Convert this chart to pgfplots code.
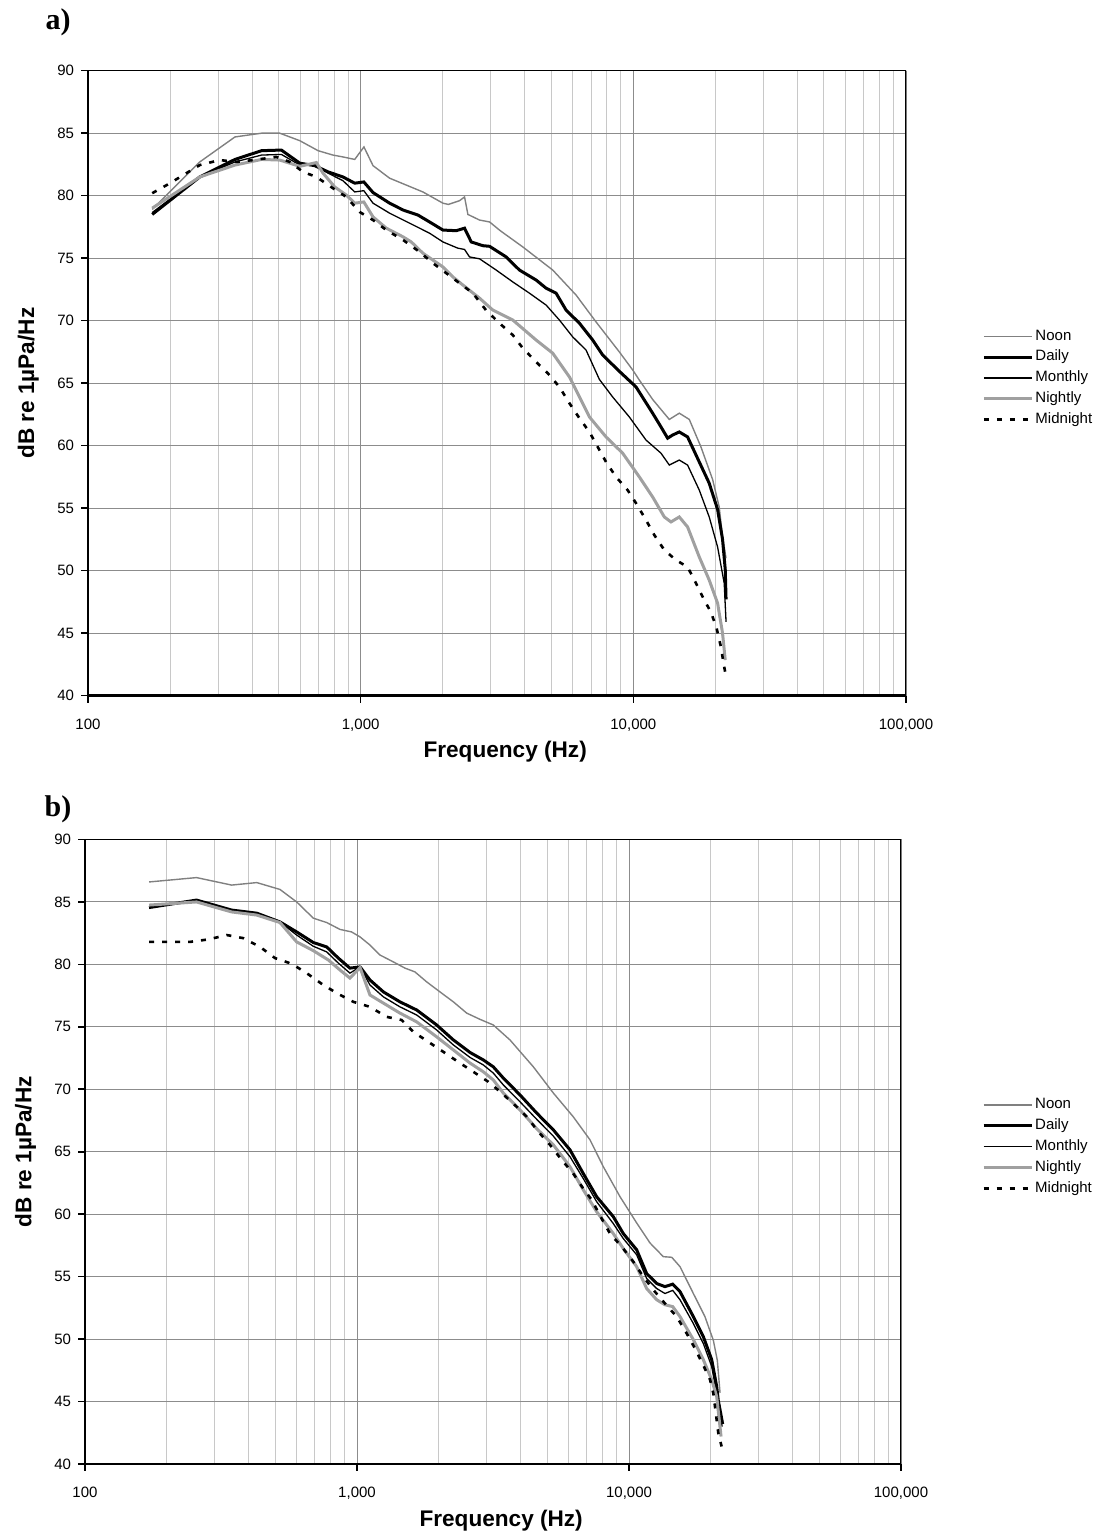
\documentclass[border=0pt]{standalone}
\usepackage{pgfplots}
\pgfplotsset{compat=1.18}
\usepackage{fontspec}
\setmainfont{Liberation Sans}
\newfontfamily\serifbold{Liberation Serif}

\definecolor{noongray}{HTML}{808080}
\definecolor{nightgray}{HTML}{A0A0A0}
\definecolor{majgrid}{HTML}{8C8C8C}
\definecolor{mingrid}{HTML}{C8C8C8}

\tikzset{
  noon/.style={draw=noongray, line width=0.7pt},
  daily/.style={draw=black, line width=1.5pt},
  monthly/.style={draw=black, line width=0.65pt},
  nightly/.style={draw=nightgray, line width=1.5pt},
  midnight/.style={draw=black, line width=1.3pt, dash pattern=on 2.5pt off 4pt},
}

\pgfplotsset{
  every axis/.append style={
    scale only axis,
    xmin=100, xmax=100000, ymin=40, ymax=90,
    xtick={100,1000,10000,100000},
    xticklabels={100,{1,000},{10,000},{100,000}},
    minor xtick={200,300,400,500,600,700,800,900,2000,3000,4000,5000,6000,7000,8000,9000,20000,30000,40000,50000,60000,70000,80000,90000},
    ytick={40,45,...,90},
    axis lines*=left, axis line style={line width=1.3pt, -},
    tick align=outside, major tick length=3.5pt, minor tick length=0pt,
    major tick style={black, line width=0.8pt},
    xmajorgrids, xminorgrids, ymajorgrids,
    major x grid style={majgrid, line width=0.5pt},
    minor x grid style={mingrid, line width=0.5pt},
    major y grid style={majgrid, line width=0.5pt},
    tick label style={font=\fontsize{7.5}{9}\selectfont},
    xticklabel style={yshift=-4.5pt},
    /pgf/number format/assume math mode=true,
    xlabel={Frequency (Hz)}, ylabel={dB re 1µPa/Hz},
    xlabel style={at={(axis description cs:0.51,-0.09)}, anchor=center,
      font=\bfseries\fontsize{11.3}{13}\selectfont},
    ylabel style={at={(axis description cs:-0.073,0.5)}, rotate=0, anchor=center,
      font=\bfseries\fontsize{11.3}{13}\selectfont},
    legend cell align=left,
    legend image code/.code={\draw[#1] (0pt,0pt) -- (24pt,0pt);},
  },
}

\begin{document}
\begin{tikzpicture}
\useasboundingbox (0,0) rectangle (549.5pt,768.5pt);

\node[font=\serifbold\bfseries\fontsize{15}{18}\selectfont] at (29pt,757.25pt) {a)};
\node[font=\serifbold\bfseries\fontsize{15}{18}\selectfont] at (29pt,363.75pt) {b)};

% ---- a) ----
\begin{semilogxaxis}[at={(44pt,420.65pt)}, anchor=south west,
  width=409pt, height=312.5pt,
  legend style={at={(axis description cs:1.093,0.508)}, anchor=west,
      draw=none, fill=none, inner sep=0pt, row sep=1.5pt,
      font=\fontsize{7.5}{9}\selectfont, nodes={inner sep=1pt}}]
\addplot[noon] table {
f v
172 78.9
257 82.7
346 84.7
433 85.0
505 85.0
598 84.4
698 83.6
791 83.25
861 83.1
951 82.9
1028 83.9
1110 82.4
1277 81.4
1469 80.85
1691 80.3
2003 79.4
2097 79.3
2305 79.6
2404 79.9
2473 78.5
2729 78.05
2969 77.9
3250 77.2
3932 75.9
5063 74.05
6166 72.05
7300 69.9
8886 67.5
9943 66.06
10520 65.25
11770 63.7
13550 62.1
14740 62.6
16040 62.1
17700 59.9
19530 57.3
20650 55.1
21240 52.7
21880 51.0
};
\addlegendentry{Noon}
\addplot[daily] table {
f v
172 78.5
257 81.5
346 82.9
433 83.6
512 83.65
598 82.6
679 82.4
760 81.9
861 81.5
951 81.0
1027 81.1
1110 80.25
1277 79.4
1432 78.85
1622 78.45
1789 77.9
2003 77.25
2241 77.2
2404 77.4
2544 76.3
2806 76.0
2969 75.95
3417 75.1
3823 74.05
4401 73.25
4787 72.6
5208 72.2
5666 70.85
6341 69.8
7096 68.45
7721 67.25
8886 65.95
10230 64.7
11770 62.6
12630 61.5
13360 60.6
13930 60.85
14740 61.1
15810 60.7
17450 58.7
18980 57.0
20370 54.9
21240 52.5
21730 50.1
21880 47.7
};
\addlegendentry{Daily}
\addplot[monthly] table {
f v
172 78.65
257 81.5
346 82.7
433 83.25
512 83.3
598 82.45
679 82.45
760 81.8
861 81.2
951 80.3
1027 80.4
1110 79.4
1277 78.6
1512 77.8
1789 77.0
2003 76.3
2272 75.8
2404 75.7
2508 75.1
2729 74.95
3141 74.05
3614 73.1
4159 72.2
4787 71.25
5357 70.05
5995 68.7
6708 67.65
7508 65.3
8396 63.9
9666 62.3
11130 60.45
12630 59.4
13550 58.45
14740 58.85
15810 58.45
17450 56.45
18980 54.3
20370 51.9
21540 49.0
21880 45.9
};
\addlegendentry{Monthly}
\addplot[nightly] table {
f v
172 79.0
257 81.5
346 82.45
433 82.9
505 82.85
598 82.35
688 82.65
728 81.8
803 80.7
886 80.05
951 79.4
1027 79.5
1110 78.3
1242 77.4
1432 76.7
1533 76.3
1691 75.4
1841 74.85
2003 74.3
2179 73.5
2371 72.85
2729 71.8
3052 70.85
3614 70.05
4401 68.45
5063 67.4
5829 65.5
6166 64.45
6901 62.3
7943 60.7
9137 59.4
10520 57.5
11770 55.9
12990 54.3
13740 53.9
14740 54.3
15810 53.5
17450 51.1
18980 49.25
20370 47.4
21240 45.0
21730 42.85
};
\addlegendentry{Nightly}
\addplot[midnight] table {
f v
172 80.2
200 81.0
223.5 81.65
257 82.45
304 82.85
350 82.7
403 82.85
491 83.1
550 82.7
615 81.9
688 81.5
791 80.6
886 79.9
991 78.7
1110 78.05
1242 77.25
1432 76.45
1645 75.5
1841 74.6
2060 73.8
2305 73.0
2579 72.2
2880 70.85
3229 69.8
3614 68.85
3932 67.8
4401 66.7
4854 65.8
5357 64.7
5829 63.4
6341 62.2
6901 61.1
7403 59.9
7943 58.7
8642 57.5
9528 56.45
10230 55.4
11130 54.05
11940 52.85
12990 51.65
14330 50.85
15810 50.3
16970 49.0
18200 47.65
19250 46.7
20200 45.4
20950 43.9
21420 42.6
21880 41.5
};
\addlegendentry{Midnight}
\draw[line width=0.6pt] (rel axis cs:0,1) -- (rel axis cs:1,1) -- (rel axis cs:1,0);
\end{semilogxaxis}

% ---- b) ----
\begin{semilogxaxis}[at={(42.5pt,36.5pt)}, anchor=south west,
  width=408pt, height=312.25pt,
  legend style={at={(axis description cs:1.099,0.508)}, anchor=west,
      draw=none, fill=none, inner sep=0pt, row sep=1.5pt,
      font=\fontsize{7.5}{9}\selectfont, nodes={inner sep=1pt}}]
\addplot[noon] table {
f v
172 86.6
257 86.95
346 86.35
428 86.55
521 86.0
600 85.0
691 83.7
774 83.35
866 82.8
955 82.6
1026 82.2
1116 81.55
1215 80.75
1360 80.2
1502 79.7
1633 79.4
1804 78.6
2018 77.8
2261 77.0
2531 76.1
2833 75.6
3170 75.15
3652 73.95
4449 71.8
5271 69.7
6238 67.8
7190 65.95
8046 63.8
9268 61.4
10670 59.3
11940 57.7
13370 56.6
14360 56.55
15400 55.8
17240 53.65
19020 51.8
20420 49.9
21120 48.3
21610 45.7
};
\addlegendentry{Noon}
\addplot[daily] table {
f v
172 84.55
257 85.15
346 84.35
428 84.1
521 83.4
600 82.6
691 81.75
774 81.4
854 80.5
942 79.7
1026 79.8
1116 78.75
1250 77.8
1439 77.0
1657 76.35
1963 75.15
2261 73.95
2603 72.95
2914 72.35
3170 71.8
3451 70.9
3974 69.55
4577 68.1
5271 66.75
6068 65.15
6792 63.25
7606 61.4
8756 59.8
9528 58.45
10670 57.15
11610 55.25
12640 54.45
13560 54.2
14480 54.4
15400 53.8
17240 51.8
18760 50.2
20140 48.35
21010 46.2
21290 45.1
22100 43.2
};
\addlegendentry{Daily}
\addplot[monthly] table {
f v
172 84.6
257 85.15
346 84.3
428 84.05
521 83.4
600 82.35
691 81.45
774 81.0
854 80.1
942 79.3
1026 79.8
1116 78.35
1250 77.4
1439 76.6
1657 75.95
1963 74.75
2261 73.55
2603 72.55
2914 71.95
3170 71.3
3451 70.35
3974 69.0
4577 67.6
5271 66.25
6068 64.6
6792 62.85
7606 61.0
8756 59.25
9528 58.05
10670 56.75
11610 54.85
12640 54.05
13560 53.65
14480 53.9
15400 53.15
17240 51.25
18760 49.65
20140 47.8
21010 45.65
21290 44.85
22000 43.0
};
\addlegendentry{Monthly}
\addplot[nightly] table {
f v
172 84.75
257 85.0
346 84.2
428 83.95
521 83.35
600 81.8
691 81.1
785 80.35
866 79.55
942 78.9
1026 79.75
1116 77.55
1250 76.9
1439 76.1
1657 75.4
1963 74.2
2261 73.15
2603 72.1
2914 71.4
3170 70.75
3451 69.7
3974 68.35
4577 66.85
5271 65.55
6068 63.8
6792 61.95
7606 60.2
8756 58.45
9528 57.25
10670 55.8
11610 54.05
12640 53.15
13560 52.75
14480 52.6
15400 51.8
17240 49.95
18760 48.35
20140 46.75
21010 45.4
21800 42.2
};
\addlegendentry{Nightly}
\addplot[midnight] table {
f v
172 81.8
202 81.8
243 81.8
284 82.0
332 82.35
382 82.1
440 81.4
500 80.5
575 80.05
653 79.3
741 78.45
842 77.7
970 77.0
1116 76.6
1285 75.8
1459 75.55
1611 74.6
1829 73.8
2076 73.0
2391 72.1
2678 71.4
3040 70.6
3404 69.7
3865 68.6
4207 67.8
4643 66.6
5123 65.55
5656 64.35
6238 63.25
6792 62.05
7292 61.15
7934 59.65
8513 58.45
9400 57.4
10370 56.2
11290 55.0
12280 53.95
13560 52.85
14970 51.8
16300 50.45
17480 49.25
18760 47.9
19860 46.75
20420 45.65
21300 42.45
21900 41.4
};
\addlegendentry{Midnight}
\draw[line width=0.6pt] (rel axis cs:0,1) -- (rel axis cs:1,1) -- (rel axis cs:1,0);
\end{semilogxaxis}
\end{tikzpicture}
\end{document}
